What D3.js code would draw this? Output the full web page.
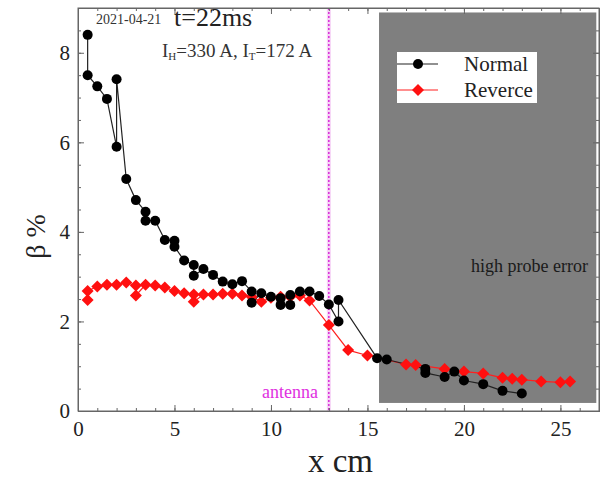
<!DOCTYPE html>
<html><head><meta charset="utf-8">
<script src="https://cdn.jsdelivr.net/npm/d3@7"></script>
<style>body{margin:0;background:#fff}svg{display:block}text{font-family:"Liberation Serif","DejaVu Serif",serif}</style>
</head><body><svg id="c" width="604" height="479"></svg>
<script>
const normalX = [0.5,0.5,1,1.5,2,2,2.5,3,3.5,3.5,4,4.5,5,5,5.5,6,6,6.5,7,7.5,8,8.5,9,9,9.5,10,10.5,10.5,11,11,11.5,12,12.5,13,13.5,13.5,15.5,16,18,18,19,19.5,20,21,22,23];
const normalY = [8.4,7.5,7.25,6.97,5.9,7.41,5.18,4.71,4.45,4.25,4.25,3.82,3.8,3.67,3.36,3.26,3.02,3.17,3.04,2.89,2.83,2.9,2.67,2.42,2.63,2.55,2.52,2.37,2.37,2.59,2.67,2.67,2.57,2.38,2.0,2.48,1.18,1.15,0.94,0.85,0.76,0.88,0.68,0.6,0.45,0.39];
const reverseX = [0.5,0.5,1,1.5,2,2.5,3,3,3.5,4,4.5,5,5.5,6,6,6.5,7,7.5,8,8.5,9,9.5,10,10.5,11,11.5,12,13,14,15,17,17.5,19,20,21,22,22.5,23,24,25,25.5];
const reverseY = [2.48,2.68,2.78,2.82,2.82,2.87,2.8,2.58,2.82,2.8,2.76,2.68,2.63,2.6,2.44,2.6,2.6,2.62,2.62,2.58,2.55,2.44,2.53,2.55,2.55,2.58,2.47,1.92,1.36,1.24,1.04,1.03,0.94,0.88,0.84,0.74,0.72,0.7,0.66,0.64,0.66];
const xTicks = [0,5,10,15,20,25];
const yTicks = [0,2,4,6,8];
const seriesNames = ["Normal","Reverce"];
const antennaX = 13;
const errorRegion = {x0:15.6, x1:26.86, y0:0.18, y1:8.9};

const svg = d3.select("#c");
const L=78,R=599,T=8,B=411;
const x = d3.scaleLinear().domain([0,27]).range([L,R]);
const y = d3.scaleLinear().domain([0,9]).range([B,T]);
const diamond = "M0,-6L6,0L0,6L-6,0Z";

// gray region
svg.append("rect").attr("x",x(errorRegion.x0)).attr("y",y(errorRegion.y1))
  .attr("width",x(errorRegion.x1)-x(errorRegion.x0)).attr("height",y(errorRegion.y0)-y(errorRegion.y1))
  .attr("fill","#7f7f7f");
svg.append("text").attr("x",588).attr("y",y(3.1)).attr("text-anchor","end")
  .attr("font-size",18).attr("fill","#1a1a1a").text("high probe error");

// antenna line
svg.append("line").attr("x1",x(antennaX)).attr("x2",x(antennaX)).attr("y1",T).attr("y2",B)
  .attr("stroke","#f6d2f6").attr("stroke-width",4);
svg.append("line").attr("x1",x(antennaX)).attr("x2",x(antennaX)).attr("y1",T).attr("y2",B)
  .attr("stroke","#d000d0").attr("stroke-width",1.2).attr("stroke-dasharray","2,2");
svg.append("text").attr("x",318).attr("y",398).attr("text-anchor","end")
  .attr("font-size",18).attr("fill","#e030e0").text("antenna");

// axes
const axB = d3.axisBottom(x).tickValues(xTicks).tickSize(-6).tickPadding(10).tickFormat(d3.format("d"));
const axL = d3.axisLeft(y).tickValues(yTicks).tickSize(-6).tickPadding(8).tickFormat(d3.format("d"));
svg.append("g").attr("transform",`translate(0,${B})`).call(axB);
svg.append("g").attr("transform",`translate(${L},0)`).call(axL);
svg.append("g").attr("transform",`translate(0,${T})`).call(d3.axisTop(x).tickValues(xTicks).tickSize(-6).tickFormat(""));
svg.append("g").attr("transform",`translate(${R},0)`).call(d3.axisRight(y).tickValues(yTicks).tickSize(-6).tickFormat(""));
const minorX = d3.range(0,28,1), minorY = d3.range(0,9.01,0.5);
svg.append("g").attr("transform",`translate(0,${B})`).call(d3.axisBottom(x).tickValues(minorX).tickSize(-3).tickFormat(""));
svg.append("g").attr("transform",`translate(0,${T})`).call(d3.axisTop(x).tickValues(minorX).tickSize(-3).tickFormat(""));
svg.append("g").attr("transform",`translate(${L},0)`).call(d3.axisLeft(y).tickValues(minorY).tickSize(-3).tickFormat(""));
svg.append("g").attr("transform",`translate(${R},0)`).call(d3.axisRight(y).tickValues(minorY).tickSize(-3).tickFormat(""));
svg.selectAll(".domain").attr("stroke","#666");
svg.selectAll(".tick line").attr("stroke","#666");
svg.selectAll(".tick text").attr("font-size",21).attr("fill","#222").style("font-family","Liberation Serif");
svg.append("rect").attr("x",L).attr("y",T).attr("width",R-L).attr("height",B-T).attr("fill","none").attr("stroke","#666");

// axis titles
svg.append("text").attr("x",x(13.6)).attr("y",472).attr("text-anchor","middle").attr("font-size",33).attr("fill","#222").text("x cm");
svg.append("text").attr("transform",`translate(45,${y(3.9)}) rotate(-90)`).attr("text-anchor","middle").attr("font-size",28).attr("fill","#222").text("β %");

// annotations
svg.append("text").attr("x",96).attr("y",24).attr("font-size",14).attr("fill","#333").text("2021-04-21");
svg.append("text").attr("x",174).attr("y",26).attr("font-size",26).attr("fill","#222").text("t=22ms");
const ann = svg.append("text").attr("x",162).attr("y",57).attr("font-size",19).attr("fill","#333");
ann.append("tspan").text("I");
ann.append("tspan").attr("font-size",11).attr("dy",3).text("H");
ann.append("tspan").attr("dy",-3).text("=330 A, I");
ann.append("tspan").attr("font-size",11).attr("dy",3).text("T");
ann.append("tspan").attr("dy",-3).text("=172 A");

// series
const normal = normalX.map((d,i)=>({x:d,y:normalY[i]}));
const reverse = reverseX.map((d,i)=>({x:d,y:reverseY[i]}));
const line = d3.line().x(d=>x(d.x)).y(d=>y(d.y));
svg.append("path").datum(reverse).attr("d",line).attr("fill","none").attr("stroke","#ff2020").attr("stroke-width",1.2);
svg.append("path").datum(normal).attr("d",line).attr("fill","none").attr("stroke","#222").attr("stroke-width",1.2);
svg.selectAll(".rv").data(reverse).enter().append("path").attr("class","rv")
  .attr("transform",d=>`translate(${x(d.x)},${y(d.y)})`)
  .attr("d",diamond).attr("fill","#ff1010");
svg.selectAll(".nm").data(normal).enter().append("circle").attr("class","nm")
  .attr("cx",d=>x(d.x)).attr("cy",d=>y(d.y)).attr("r",5).attr("fill","#000");

// legend
const lg = svg.append("g");
lg.append("rect").attr("x",397).attr("y",52).attr("width",140).attr("height",51).attr("fill","#fff");
const legColors = ["#000","#ff1010"];
seriesNames.forEach((n,i)=>{
  const yy = 64 + i*26;
  lg.append("line").attr("x1",397).attr("x2",438).attr("y1",yy).attr("y2",yy).attr("stroke",i?"#ff2020":"#222").attr("stroke-width",1.2);
  if(i===0) lg.append("circle").attr("cx",418).attr("cy",yy).attr("r",5).attr("fill",legColors[i]);
  else lg.append("path").attr("transform",`translate(418,${yy})`).attr("d",diamond).attr("fill",legColors[i]);
  lg.append("text").attr("x",464).attr("y",yy+7).attr("font-size",21).attr("fill","#222").text(n);
});
</script></body></html>
